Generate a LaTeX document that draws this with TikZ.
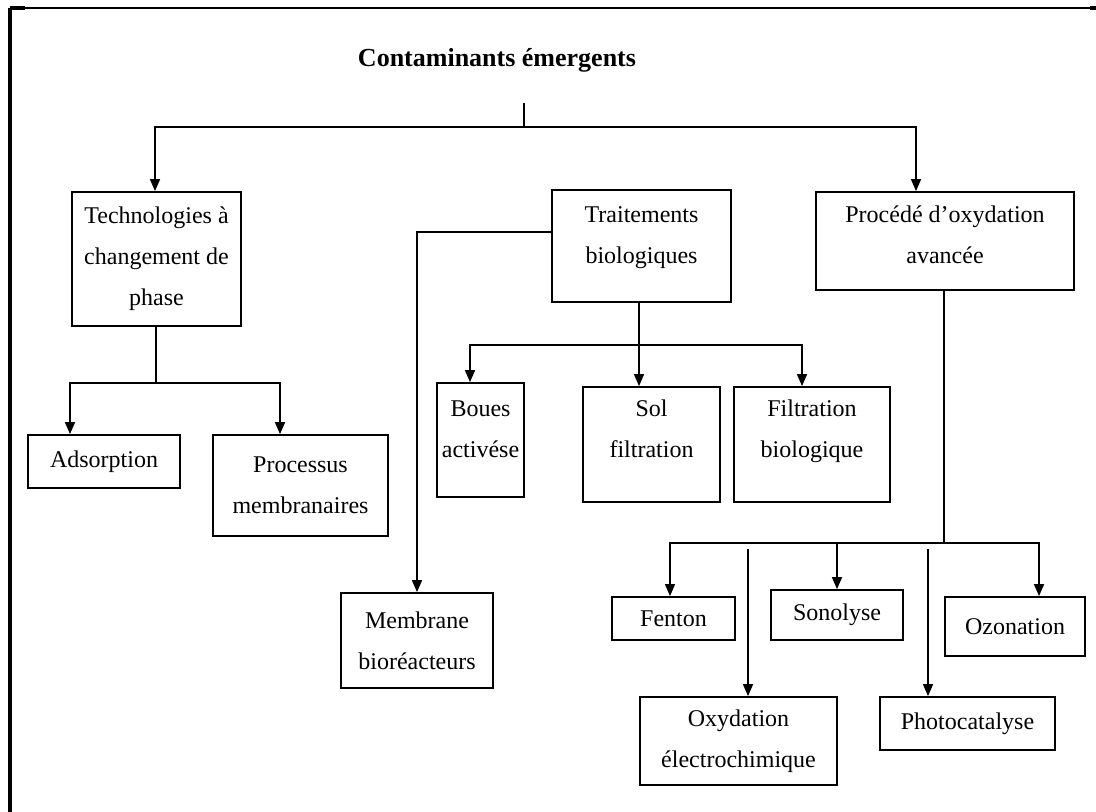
\documentclass[tikz,border=0pt]{standalone}
\usepackage{fontspec}
\setmainfont{Liberation Serif}
\usetikzlibrary{arrows.meta}

\begin{document}
\begin{tikzpicture}[
  x=0.5pt,y=-0.5pt,
  >={Triangle[length=6pt,width=5pt]},
  every node/.style={font=\fontsize{12}{20.5}\selectfont},
  box/.style={draw,line width=0.9pt,align=center,inner sep=2pt},
  link/.style={line width=0.8pt},
  lowtext/.style={text depth=#1}
]
\useasboundingbox (0,0) rectangle (1096,812);
% frame
\draw[line width=0.8pt] (10,8) -- (1096,8);
\draw[line width=1.6pt] (10,8) -- (10,812);
\draw[line width=1.6pt] (10,8) -- (25,8);
\draw[line width=1.6pt] (1090,8) -- (1096,8);

\node[font=\fontsize{13}{15}\selectfont\bfseries] (title) at (497,60) {Contaminants émergents};

% first level
\node[box,minimum width=84.5pt,minimum height=67pt] (tech) at (156.5,259) {Technologies à\\changement de\\phase};
\node[box,lowtext=11pt,minimum width=89.5pt,minimum height=56pt] (trait) at (641.5,246) {Traitements\\biologiques};
\node[box,lowtext=6pt,minimum width=129pt,minimum height=49pt] (proc) at (945,241) {Procédé d’oxydation\\avancée};

% second level
\node[box,minimum width=76pt,minimum height=26.5pt] (ads) at (104,461.5) {Adsorption};
\node[box,minimum width=87.5pt,minimum height=50.5pt] (pm) at (300.5,485.5) {Processus\\membranaires};
\node[box,lowtext=11pt,minimum width=43.5pt,minimum height=57pt] (boues) at (480.5,440) {Boues\\activése};
\node[box,lowtext=16pt,minimum width=68.5pt,minimum height=57.5pt] (sol) at (651.5,444.5) {Sol\\filtration};
\node[box,lowtext=16pt,minimum width=78pt,minimum height=57.5pt] (filt) at (812,444.5) {Filtration\\biologique};
\node[box,minimum width=76pt,minimum height=47.5pt] (mbr) at (417,640.5) {Membrane\\bioréacteurs};
\node[box,minimum width=61.5pt,minimum height=21.5pt] (fenton) at (673.5,618.5) {Fenton};
\node[box,minimum width=66pt,minimum height=25pt] (sono) at (837,615) {Sonolyse};
\node[box,minimum width=70pt,minimum height=29.5pt] (ozon) at (1015,626.5) {Ozonation};
\node[box,minimum width=98.5pt,minimum height=44pt] (oxy) at (738.5,741) {Oxydation\\électrochimique};
\node[box,minimum width=87.5pt,minimum height=26.5pt] (photo) at (967.5,723.5) {Photocatalyse};

% branch points
\coordinate (top) at (524,103);
\coordinate (split) at (524,127);
\coordinate (tj) at (156,383);
\coordinate (tb) at (639,345);
\coordinate (pb) at (944,543);
\coordinate (pb2) at (944,549);

% connectors
\draw[link] (top) -- (split);
\draw[link,->] (split) -| ([xshift=-0.75pt]tech.north);
\draw[link,->] (split) -| ([xshift=-14.5pt]proc.north);

\draw[link] (tech.south -| tj) -- (tj);
\draw[link,->] (tj) -| ([xshift=-17pt]ads.north);
\draw[link,->] (tj) -| ([xshift=-10.25pt]pm.north);

\draw[link,->] ([yshift=7pt]trait.west) -| (mbr.north);
\draw[link,->] ([xshift=-1.25pt]trait.south) -- ([xshift=-1.25pt]trait.south |- sol.north);
\draw[link,->] (tb) -| ([xshift=-5.25pt]boues.north);
\draw[link,->] (tb) -| ([xshift=-5pt]filt.north);

\draw[link] ([xshift=-0.5pt]proc.south) -- (pb);
\draw[link,->] (pb) -| ([xshift=-1.75pt]fenton.north);
\draw[link,->] (pb) -| ([xshift=12pt]ozon.north);
\draw[link,->] (sono.north |- pb) -- (sono.north);
\draw[link,->] ([xshift=4.75pt]oxy.north |- pb2) -- ([xshift=4.75pt]oxy.north);
\draw[link,->] ([xshift=-19.75pt]photo.north |- pb2) -- ([xshift=-19.75pt]photo.north);
\end{tikzpicture}
\end{document}
